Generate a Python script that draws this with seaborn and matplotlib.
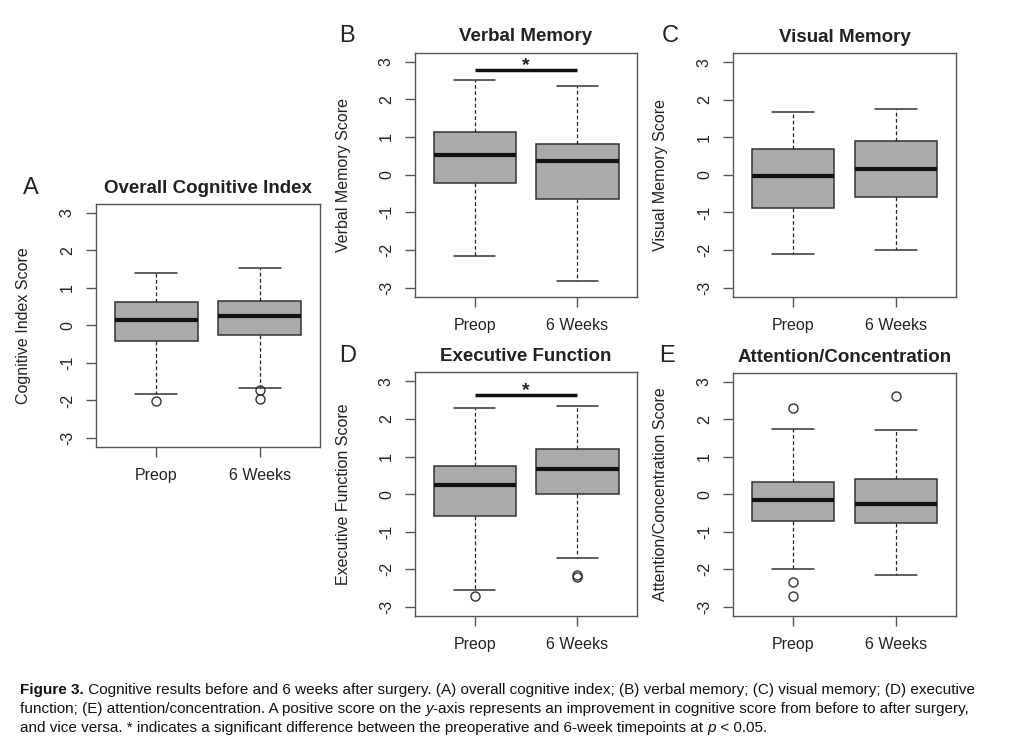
import matplotlib
matplotlib.use("Agg")
import numpy as np
import pandas as pd
import matplotlib.pyplot as plt
import seaborn as sns

# groups and panel text
groups = ["Preop", "6 Weeks"]
letters = ["A", "B", "C", "D", "E"]
titles = ["Overall Cognitive Index", "Verbal Memory", "Visual Memory",
          "Executive Function", "Attention/Concentration"]
ylabels = ["Cognitive Index Score", "Verbal Memory Score", "Visual Memory Score",
           "Executive Function Score", "Attention/Concentration Score"]

# box statistics, [Preop, 6 Weeks] per panel
medians = [[0.15, 0.26], [0.52, 0.36], [-0.03, 0.16], [0.25, 0.66], [-0.15, -0.27]]
q1s = [[-0.42, -0.26], [-0.21, -0.65], [-0.89, -0.60], [-0.57, 0.00], [-0.71, -0.77]]
q3s = [[0.62, 0.64], [1.12, 0.81], [0.68, 0.89], [0.75, 1.20], [0.33, 0.40]]
whislos = [[-1.82, -1.66], [-2.17, -2.83], [-2.10, -1.99], [-2.55, -1.69], [-2.00, -2.14]]
whishis = [[1.41, 1.52], [2.52, 2.34], [1.67, 1.76], [2.29, 2.36], [1.75, 1.72]]
fliers = [[[-2.01], [-1.72, -1.96]],
          [[], []],
          [[], []],
          [[-2.70], [-2.15, -2.19]],
          [[2.30, -2.33, -2.70], [2.63]]]
# significance bars: panel index -> bar height
sig_bars = {1: 2.78, 3: 2.63}

# axes rectangles in figure fraction
rects = [[0.0948, 0.3935, 0.2211, 0.3297],
         [0.4097, 0.5974, 0.2192, 0.3313],
         [0.7236, 0.5974, 0.2201, 0.3306],
         [0.4097, 0.1642, 0.2192, 0.3304],
         [0.7236, 0.1642, 0.2201, 0.3301]]
letter_pos = [(31, 188), (347, 36), (670, 36), (348, 356), (667, 356)]

sns.set_theme(style="ticks")
plt.rcParams['font.family'] = ["Liberation Sans", "DejaVu Sans"]

W, H = 1013, 737
fig = plt.figure(figsize=(W / 100, H / 100), dpi=100)
fig.patch.set_facecolor("white")

for i in range(5):
    ax = fig.add_axes(rects[i])
    stats = []
    for g in range(2):
        stats.append(dict(med=medians[i][g], q1=q1s[i][g], q3=q3s[i][g],
                          whislo=whislos[i][g], whishi=whishis[i][g],
                          fliers=fliers[i][g], label=groups[g]))
    ax.bxp(stats, positions=[1, 2], widths=0.8, capwidths=0.4,
           patch_artist=True, showfliers=True,
           boxprops=dict(facecolor="#aaaaaa", edgecolor="#333333", linewidth=1.1),
           medianprops=dict(color="#111111", linewidth=3),
           whiskerprops=dict(color="#222222", linewidth=0.9, linestyle=(0, (3, 2))),
           capprops=dict(color="#333333", linewidth=1.1),
           flierprops=dict(marker="o", markerfacecolor="none", markeredgecolor="#333333",
                           markersize=6.5, markeredgewidth=1))
    ax.set_xlim(0.42, 2.58)
    ax.set_ylim(-3.24, 3.24)
    ax.set_yticks([-3, -2, -1, 0, 1, 2, 3])
    ax.set_yticklabels(["-3", "-2", "-1", "0", "1", "2", "3"], rotation=90, va="center")
    ax.set_xticks([1, 2])
    ax.set_xticklabels(groups)
    ax.tick_params(axis="both", direction="out", length=7.2, width=1, color="#555555",
                   labelsize=11.5, labelcolor="#222222")
    ax.tick_params(axis="y", pad=8)
    ax.tick_params(axis="x", pad=8)
    for s in ax.spines.values():
        s.set_color("#555555")
        s.set_linewidth(1)
    ax.set_facecolor("white")
    ax.set_title(titles[i], fontsize=13.5, fontweight="bold", color="#222222", pad=8)
    ax.set_ylabel(ylabels[i], fontsize=11.5, color="#222222")
    ax.yaxis.set_label_coords(-0.29, 0.5)
    if i in sig_bars:
        yb = sig_bars[i]
        ax.plot([1, 2], [yb, yb], color="#111111", linewidth=2.5, solid_capstyle="butt")
        ax.text(1.5, yb + 0.12, "*", ha="center", va="center", fontsize=14,
                fontweight="bold", color="#222222")
    fig.text(letter_pos[i][0] / W, 1 - letter_pos[i][1] / H, letters[i],
             fontsize=17, ha="center", va="center", color="#222222")

# caption: pieces placed one after another on the same baseline
cap_size = 11
renderer = fig.canvas.get_renderer()
def chain(y_px, pieces):
    x_px = 20
    for txt, style in pieces:
        kw = dict(fontsize=cap_size, color="#111111", va="baseline", ha="left")
        if style == "b":
            kw["fontweight"] = "bold"
        if style == "i":
            kw["fontstyle"] = "italic"
        t = fig.text(x_px / W, 1 - y_px / H, txt, **kw)
        bb = t.get_window_extent(renderer=renderer)
        x_px = bb.x1

chain(694, [("Figure 3.", "b"),
            (" Cognitive results before and 6 weeks after surgery. (A) overall cognitive index; "
             "(B) verbal memory; (C) visual memory; (D) executive", "")])
chain(713, [("function; (E) attention/concentration. A positive score on the ", ""),
            ("y", "i"),
            ("-axis represents an improvement in cognitive score from before to after surgery,", "")])
chain(732, [("and vice versa. * indicates a significant difference between the preoperative "
             "and 6-week timepoints at ", ""),
            ("p", "i"),
            (" < 0.05.", "")])

fig.savefig("out.png", dpi=100, facecolor="white")
